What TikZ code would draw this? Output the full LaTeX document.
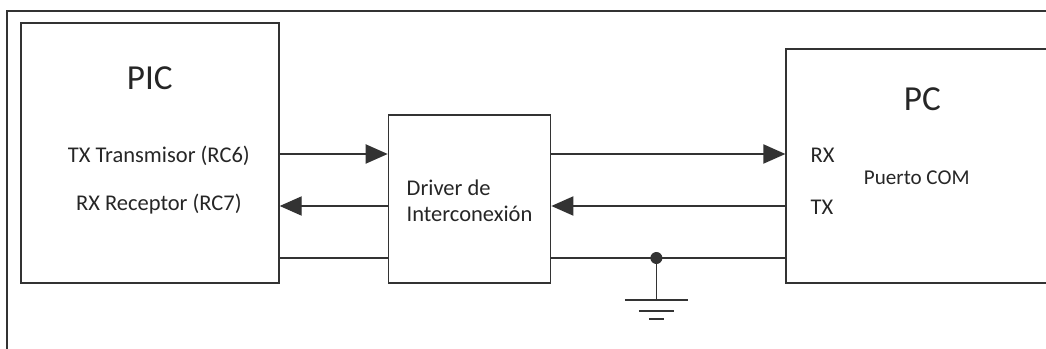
\documentclass[tikz,border=0pt]{standalone}
\usepackage{fontspec}
\setmainfont{Carlito}
\usetikzlibrary{arrows.meta, positioning}

\begin{document}
\begin{tikzpicture}[>={Triangle[length=0.55cm, width=0.48cm]}, line width=0.8pt, color=black!80]

        % Styles
        \tikzstyle{block} = [draw, line width=1.2pt, inner sep=0pt]
        \tikzstyle{bigtxt} = [text=black!85, font=\fontsize{25}{30}\selectfont]
        \tikzstyle{txt} = [text=black!85, font=\fontsize{16}{18.5}\selectfont]
        \tikzstyle{wire} = [line width=0.95pt]
        \tikzstyle{sigarrow} = [->, wire]
        \tikzstyle{dot} = [circle, fill, inner sep=0pt, minimum size=0.3cm]

        \useasboundingbox (0,0) rectangle (26.15,-8.725);

        % Frame
        \draw[line width=1.2pt] (26.15,-0.275) -- (0.175,-0.275) -- (0.175,-8.725);

        % Blocks
        \node[block, minimum width=6.45cm, minimum height=6.5cm, anchor=south west] (pic) at (0.5,-7.1) {};
        \node[block, minimum width=4.05cm, minimum height=4.2cm, anchor=south west] (drv) at ([xshift=2.7cm]pic.south east) {};
        \node[block, minimum width=6.525cm, minimum height=5.85cm, anchor=south west] (pc) at ([xshift=5.85cm]drv.south east) {};

        % PIC texts
        \node[bigtxt] (piclbl) at ([yshift=-1.4cm]pic.north) {PIC};
        \node[txt] (pictx) at ([xshift=0.225cm, yshift=-0.075cm]pic.center) {TX Transmisor (RC6)};
        \node[txt] (picrx) at ([xshift=0.225cm, yshift=-1.275cm]pic.center) {RX Receptor (RC7)};

        % Driver text
        \node[txt, align=left] (drvlbl) at ([yshift=-0.05cm]drv.center) {Driver de\\Interconexión};

        % PC texts
        \node[bigtxt] (pclbl) at ([xshift=0.14cm, yshift=1.675cm]pc.center) {PC};
        \node[txt, anchor=west] (pcrx) at ([xshift=0.5cm, yshift=0.275cm]pc.west) {RX};
        \node[txt, anchor=west] (pctx) at ([xshift=0.5cm, yshift=-1.025cm]pc.west) {TX};
        \node[txt, font=\fontsize{15}{18}\selectfont] (pccom) at ([yshift=-0.3cm]pc.center) {Puerto COM};

        % Rows of the serial lines
        \coordinate (txrow) at ([yshift=3.25cm]pic.south);
        \coordinate (rxrow) at ([yshift=1.95cm]pic.south);
        \coordinate (gndrow) at ([yshift=0.65cm]pic.south);

        % Data lines
        \draw[sigarrow] (pic.east |- txrow) -- (drv.west |- txrow);
        \draw[sigarrow] (drv.east |- txrow) -- (pc.west |- txrow);
        \draw[sigarrow] (drv.west |- rxrow) -- (pic.east |- rxrow);
        \draw[sigarrow] (pc.west |- rxrow) -- (drv.east |- rxrow);

        % Common ground
        \draw[wire] (pic.east |- gndrow) -- (drv.west |- gndrow);
        \draw[wire] (drv.east |- gndrow) -- (pc.west |- gndrow);
        \node[dot] (gdot) at ([xshift=2.625cm]drv.east |- gndrow) {};
        \coordinate (earth) at ([yshift=-1.05cm]gdot.center);
        \draw[wire] (gdot.center) -- (earth);
        \foreach \w/\d in {0.7875/0, 0.4375/0.275, 0.1875/0.475}
            \draw[wire] ([xshift=-\w cm, yshift=-\d cm]earth) -- ([xshift=\w cm, yshift=-\d cm]earth);

\end{tikzpicture}
\end{document}
